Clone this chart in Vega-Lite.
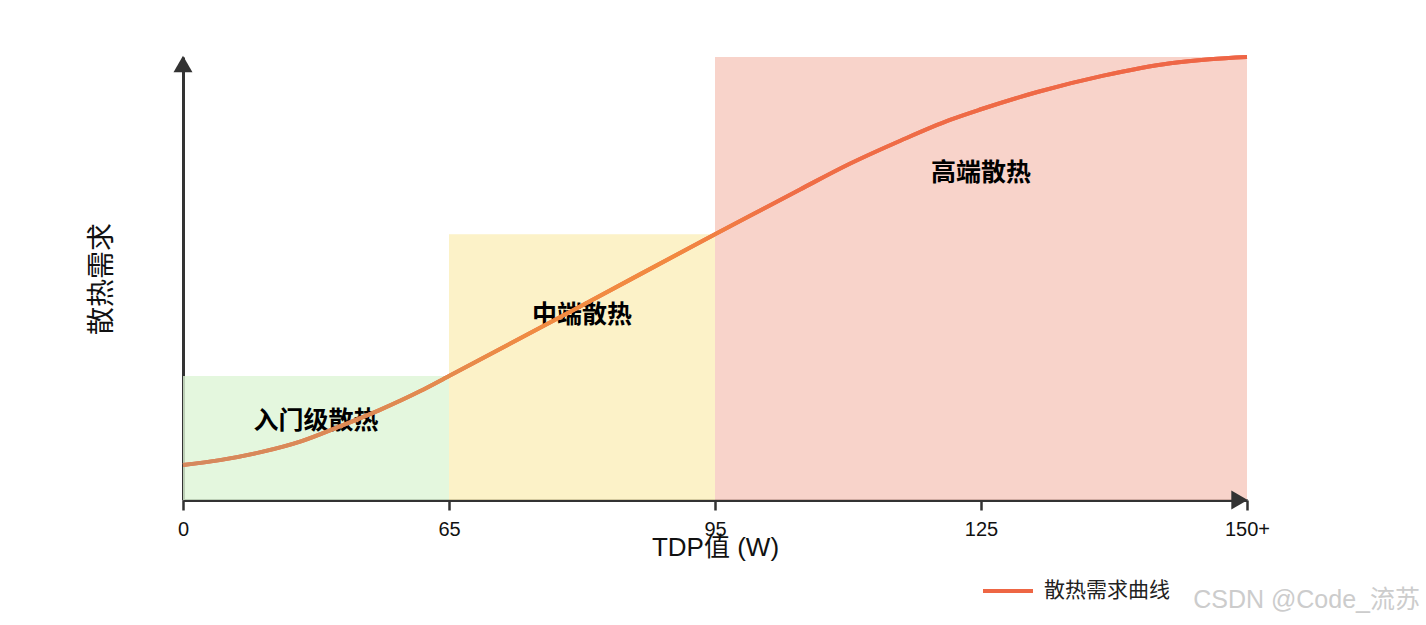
{
  "$schema": "https://vega.github.io/schema/vega-lite/v6.json",
  "width": 1064,
  "height": 443,
  "autosize": {"type": "none"},
  "padding": {"left": 183, "top": 57, "right": 179, "bottom": 125},
  "background": "white",
  "config": {"font": "Liberation Sans, Noto Sans CJK SC", "view": {"stroke": null}},
  "title": {"text": "CSDN @Code_流苏", "orient": "bottom", "anchor": "end", "frame": "group", "fontSize": 25, "fontWeight": "normal", "color": "#cccccc", "dx": 173, "offset": -13},
  "datasets": {
    "zones": [
      {"zone": "入门级散热", "from": 0, "to": 65, "level": 28, "labelTdp": 32.5, "labelLevel": 17.8},
      {"zone": "中端散热", "from": 65, "to": 95, "level": 60, "labelTdp": 80, "labelLevel": 41.8},
      {"zone": "高端散热", "from": 95, "to": 150, "level": 100, "labelTdp": 125, "labelLevel": 73.8}
    ],
    "curve": [
      {"tdp": 0, "v": 7.9},
      {"tdp": 9, "v": 9.0},
      {"tdp": 19, "v": 10.8},
      {"tdp": 29, "v": 13.3},
      {"tdp": 38, "v": 16.5},
      {"tdp": 48, "v": 20.3},
      {"tdp": 58, "v": 24.6},
      {"tdp": 65, "v": 28},
      {"tdp": 80, "v": 43.9},
      {"tdp": 95, "v": 60},
      {"tdp": 98.9, "v": 64.1},
      {"tdp": 104.6, "v": 70.1},
      {"tdp": 110.2, "v": 75.9},
      {"tdp": 115.9, "v": 81.1},
      {"tdp": 121.5, "v": 85.8},
      {"tdp": 125, "v": 88.2},
      {"tdp": 130.3, "v": 92.1},
      {"tdp": 136.5, "v": 95.8},
      {"tdp": 142.8, "v": 98.6},
      {"tdp": 146.5, "v": 99.5},
      {"tdp": 150, "v": 100}
    ],
    "arrows": [
      {"dir": "up", "tdp": 0, "v": 98.4},
      {"dir": "right", "tdp": 149.3, "v": 0}
    ]
  },
  "layer": [
    {
      "data": {"name": "zones"},
      "mark": {"type": "rect", "opacity": 0.8},
      "encoding": {
        "x": {"field": "from", "type": "quantitative",
          "scale": {"domain": [0, 65, 95, 125, 150], "range": [0, 266, 532, 798, 1064], "nice": false},
          "axis": {"title": "TDP值 (W)", "values": [0, 65, 95, 125, 150], "labelExpr": "datum.value == 150 ? '150+' : datum.label",
            "grid": false, "domainColor": "#333333", "domainWidth": 3, "tickColor": "#333333", "tickWidth": 2.5, "tickSize": 10,
            "labelFontSize": 20, "labelColor": "#111111", "labelPadding": 9, "labelFlush": false,
            "titleFontSize": 26, "titleFontWeight": "normal", "titleColor": "#111111", "titleY": 55, "titleBaseline": "alphabetic"}},
        "x2": {"field": "to"},
        "y": {"field": "level", "type": "quantitative",
          "scale": {"domain": [0, 100], "nice": false},
          "axis": {"title": "散热需求", "labels": false, "ticks": false, "grid": false, "domainColor": "#333333", "domainWidth": 3,
            "titleFontSize": 28, "titleFontWeight": "normal", "titleColor": "#111111", "titlePadding": 67}},
        "y2": {"datum": 0},
        "fill": {"field": "zone", "type": "nominal",
          "scale": {"domain": ["入门级散热", "中端散热", "高端散热"], "range": ["#ddf5d6", "#fbefba", "#f6c8bd"]},
          "legend": null}
      }
    },
    {
      "data": {"name": "zones"},
      "mark": {"type": "text", "fontSize": 25, "fontWeight": "bold", "color": "#000000", "baseline": "middle", "align": "center"},
      "encoding": {
        "x": {"field": "labelTdp", "type": "quantitative", "title": "TDP值 (W)"},
        "y": {"field": "labelLevel", "type": "quantitative", "title": "散热需求"},
        "text": {"field": "zone"}
      }
    },
    {
      "data": {"name": "curve"},
      "mark": {"type": "line", "interpolate": "monotone", "strokeWidth": 4},
      "encoding": {
        "x": {"field": "tdp", "type": "quantitative", "title": "TDP值 (W)"},
        "y": {"field": "v", "type": "quantitative", "title": "散热需求"},
        "stroke": {"datum": "散热需求曲线", "type": "nominal", "scale": {"range": ["#ee6644"]},
          "legend": {"title": null, "orient": "none", "legendX": 798, "legendY": 507, "symbolType": "stroke", "symbolSize": 2500,
            "symbolStrokeWidth": 4, "labelFontSize": 21, "labelColor": "#222222", "labelOffset": 9, "padding": 0}}
      }
    },
    {
      "data": {"name": "curve"},
      "mark": {"type": "line", "interpolate": "monotone", "strokeWidth": 4,
        "stroke": {"gradient": "linear", "x1": 0, "y1": 0, "x2": 1, "y2": 0,
          "stops": [
            {"offset": 0, "color": "#d4895e"},
            {"offset": 0.2, "color": "#de8a52"},
            {"offset": 0.33, "color": "#f08c42"},
            {"offset": 0.46, "color": "#f28a40"},
            {"offset": 0.56, "color": "#ef6e46"},
            {"offset": 1, "color": "#ee6546"}
          ]}},
      "encoding": {
        "x": {"field": "tdp", "type": "quantitative", "title": "TDP值 (W)"},
        "y": {"field": "v", "type": "quantitative", "title": "散热需求"}
      }
    },
    {
      "data": {"name": "arrows"},
      "mark": {"type": "point", "filled": true, "size": 360, "opacity": 1, "color": "#333333"},
      "encoding": {
        "x": {"field": "tdp", "type": "quantitative", "title": "TDP值 (W)"},
        "y": {"field": "v", "type": "quantitative", "title": "散热需求"},
        "shape": {"field": "dir", "type": "nominal", "scale": {"domain": ["up", "right"], "range": ["triangle-up", "triangle-right"]}, "legend": null}
      }
    }
  ]
}
